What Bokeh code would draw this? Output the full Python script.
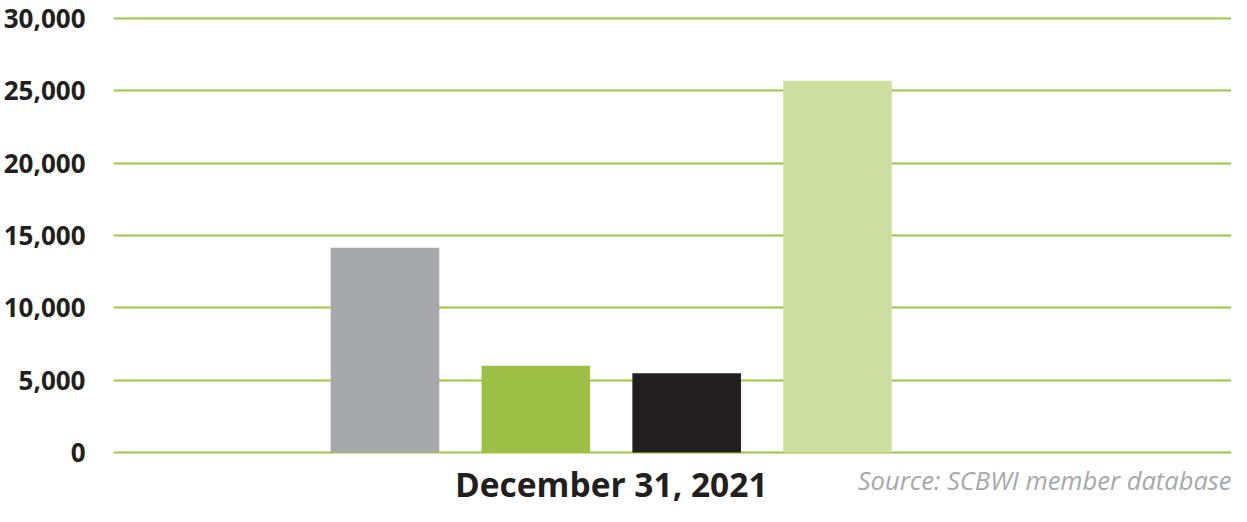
from bokeh.plotting import figure
from bokeh.models import Range1d, FixedTicker, NumeralTickFormatter, Label, ColumnDataSource
from bokeh.embed import file_html
from bokeh.resources import INLINE

# ---- data ----
group_label = "December 31, 2021"
member_counts = [14150, 6000, 5470, 25700]
y_ticks = [0, 5000, 10000, 15000, 20000, 25000, 30000]
source_note = "Source: SCBWI member database"

# ---- styles ----
bar_colors = ["#A7A8AB", "#9DBF45", "#231F20", "#CDDFA0"]
FONT = "Open Sans"
TEXT_DARK = "#231F20"
GRID_GREEN = "#9DC63F"

positions = [i + 1 for i in range(len(member_counts))]
center = sum(positions) / len(positions)

src = ColumnDataSource(dict(x=positions, top=member_counts, color=bar_colors))

# layout: frame fills the canvas vertically; the space below 0 holds the texts
H = 506
top_px, zero_px = 18, 452          # pixel rows (from canvas top) of the 30,000 and 0 lines
per_px = y_ticks[-1] / (zero_px - top_px)
y_end = y_ticks[-1] + top_px * per_px
y_start = -(H - zero_px) * per_px

x_start, x_end = -0.80, 6.612
p = figure(width=1231, height=H, output_backend="svg", toolbar_location=None,
           x_range=Range1d(x_start, x_end), y_range=Range1d(y_start, y_end),
           x_axis_location=None,
           min_border_left=106, min_border_right=0, min_border_top=0,
           min_border_bottom=0)

p.vbar(x="x", top="top", width=0.72, bottom=0, color="color", line_color=None, source=src)

p.outline_line_color = None
p.background_fill_color = "white"
p.border_fill_color = "white"
p.xgrid.grid_line_color = None
p.ygrid.grid_line_color = GRID_GREEN
p.ygrid.grid_line_width = 2
p.ygrid.level = "underlay"

# y axis
p.yaxis.ticker = FixedTicker(ticks=y_ticks)
p.yaxis.formatter = NumeralTickFormatter(format="0,0")
p.yaxis.axis_line_color = None
p.yaxis.major_tick_line_color = None
p.yaxis.minor_tick_line_color = None
p.yaxis.major_label_standoff = 22
p.yaxis.major_label_text_font = FONT
p.yaxis.major_label_text_font_style = "bold"
p.yaxis.major_label_text_font_size = "26px"
p.yaxis.major_label_text_color = TEXT_DARK

# category label under the bars
cat = Label(x=center, y=0, y_units="screen", text=group_label, text_align="center",
            text_baseline="bottom", text_font=FONT, text_font_style="bold",
            text_font_size="33.5px", text_color=TEXT_DARK)
p.add_layout(cat)

# source note
note = Label(x=x_end, x_offset=0, y=27, y_units="screen", text=source_note,
             text_align="right", text_baseline="middle", text_font=FONT,
             text_font_style="italic", text_font_size="25.5px", text_color="#A7A8AB")
p.add_layout(note)

open("out.html", "w").write(file_html(p, INLINE))
